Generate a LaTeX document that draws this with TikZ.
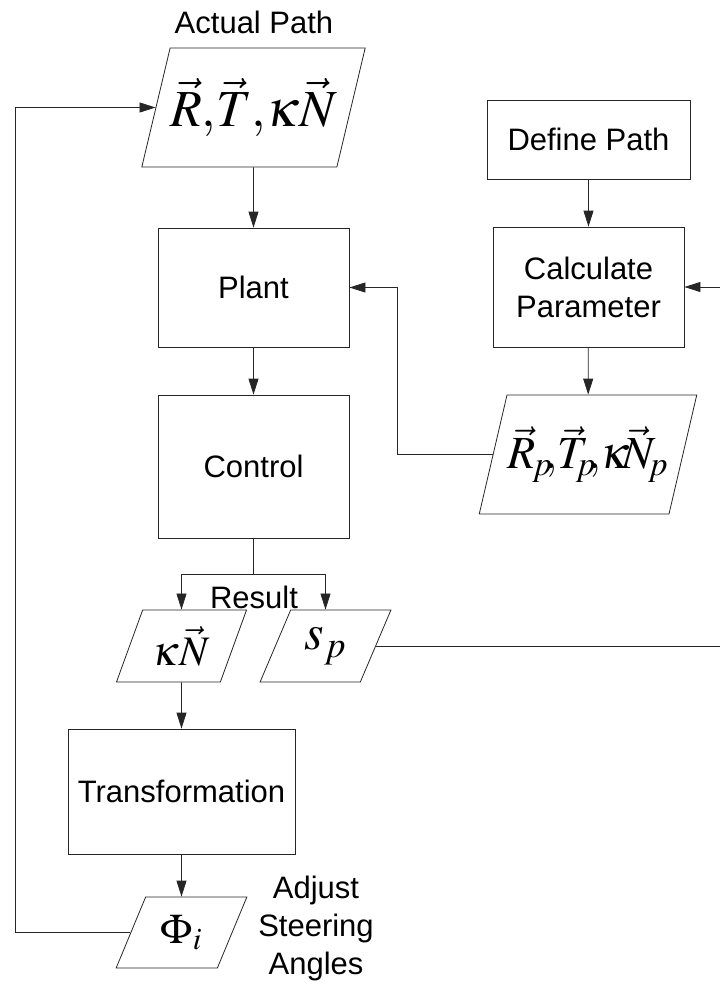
\documentclass[tikz,border=0pt]{standalone}
\usepackage{amsmath}
\usepackage{mathptmx}
\usepackage{fontspec}
\setmainfont{Liberation Sans}
\usepackage{tikz}
\usetikzlibrary{shapes.geometric, arrows.meta}

\begin{document}
\begin{tikzpicture}[x=1pt, y=-1pt]
% Define styles
\tikzstyle{process} = [rectangle, minimum width=191pt, minimum height=119pt, align=center, draw=black!85, line width=0.8pt, font=\fontsize{31}{38}\selectfont]
\tikzstyle{io} = [trapezium, trapezium left angle=64, trapezium right angle=116, trapezium stretches=true, inner sep=0pt, align=center, draw=black!85, line width=0.8pt]
\tikzstyle{caption} = [align=center, font=\fontsize{31}{38}\selectfont]
\tikzstyle{arrow} = [line width=0.8pt, draw=black!85, -{Triangle[length=16pt,width=10pt]}]
\useasboundingbox (0,0) rectangle (720,989);
% Place nodes
\node (actual) [io, minimum width=219pt, minimum height=119pt] at (253.5,107.5) {\fontsize{52}{60}\selectfont$\vec{R}{,}\vec{T}{,}\kappa\vec{N}$};
\node (actualtxt) [caption] at (254,22) {Actual Path};
\node (define) [process, minimum width=203pt, minimum height=79pt] at (588.5,139.5) {Define Path};
\node (plant) [process] at (253.5,287.5) {Plant};
\node (calc) [process, minimum height=120pt] at (588.5,287) {Calculate\\Parameter};
\node (control) [process, minimum height=143pt] at (253.5,466.5) {Control};
\node (rp) [io, minimum width=218pt, minimum height=119pt] at (588,454.5) {\fontsize{46}{56}\selectfont$\vec{R}_{\mkern-2mu p}\mkern-3mu{,}\vec{T}_{\mkern-2mu p}\mkern-3mu{,}\kappa\mkern-3mu\vec{N}_{\mkern-2mu p}$};
\node (kn) [io, minimum width=131pt, minimum height=72pt] at (181.5,646) {\fontsize{42}{50}\selectfont$\kappa\vec{N}$};
\node (sp) [io, minimum width=131pt, minimum height=72pt] at (325.5,646) {\fontsize{50}{60}\selectfont$s_p$};
\node (result) [caption] at (254,597) {Result};
\node (trans) [process, minimum width=227pt, minimum height=125pt] at (181.5,791.5) {Transformation};
\node (phi) [io, minimum width=131pt, minimum height=71pt] at (181.5,932.5) {\fontsize{42}{50}\selectfont$\Phi_i$};
\node (adjust) [caption] at (316,928) {Adjust\\Steering\\Angles};
% Corner points
\coordinate (split) at (253.5,574);
\coordinate (back) at (15,932.5);
\coordinate (mid) at (397,454.5);
\coordinate (ret) at (740,646);
% Draw arrows
\draw [arrow] (actual) -- (plant);
\draw [arrow] (plant) -- (control);
\draw [line width=0.8pt, draw=black!85] (control) -- (split);
\draw [arrow] (split) -| (kn.north);
\draw [arrow] (split) -| (sp.north);
\draw [arrow] (kn) -- (trans);
\draw [arrow] (trans) -- (phi);
\draw [arrow] (phi.left side) -- (back) |- (actual.left side);
\draw [arrow] (define) -- (calc);
\draw [arrow] (calc) -- (rp);
\draw [arrow] (rp.left side) -- (mid) |- (plant.east);
\draw [arrow] (sp.right side) -- (ret) |- (calc.east);
\end{tikzpicture}
\end{document}
